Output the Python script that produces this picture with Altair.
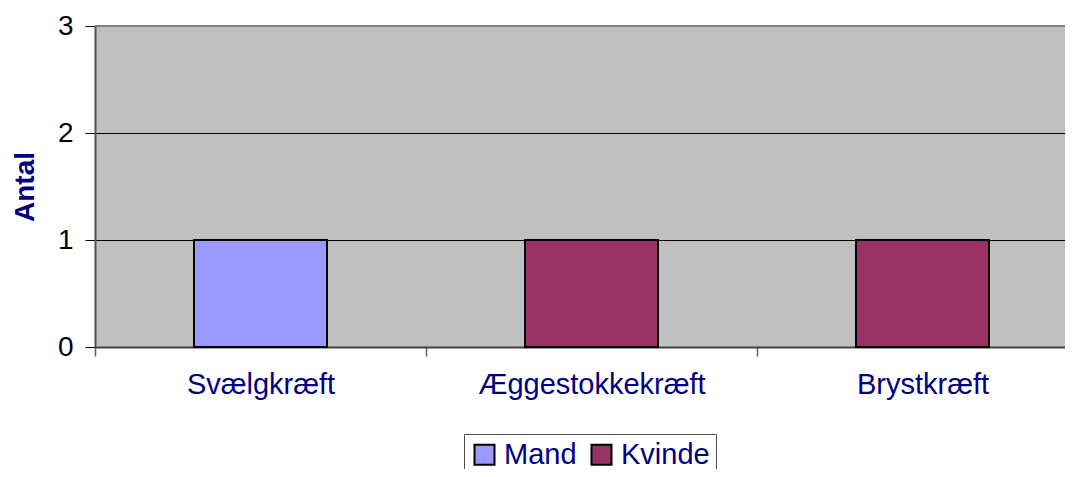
import altair as alt
import pandas as pd

categories = ["Svælgkræft", "Æggestokkekræft", "Brystkræft"]
genders = ["Mand", "Kvinde", "Kvinde"]
counts = [1, 1, 1]
y_max = 3

df = pd.DataFrame({"Sygdom": categories, "Køn": genders, "Antal": counts})

navy = "#000080"
font = "Liberation Sans"

bars = alt.Chart(df).mark_bar(size=133, stroke="black", strokeWidth=2).encode(
    x=alt.X("Sygdom:N", sort=categories, title=None,
            scale=alt.Scale(range=[0, 993], paddingInner=0, paddingOuter=0),
            axis=alt.Axis(labelAngle=0, labelColor=navy, labelFont=font,
                          labelFontSize=29, labelPadding=14, labelLimit=0,
                          tickBand="extent",
                          tickColor="#606060", tickSize=9, domainColor="#404040",
                          domainWidth=2, tickWidth=1.5)),
    y=alt.Y("Antal:Q", title="Antal", scale=alt.Scale(domain=[0, y_max]),
            axis=alt.Axis(values=[0, 1, 2, 3], format="d", labelColor="black",
                          labelFont=font, labelFontSize=28, labelPadding=12,
                          tickColor="black", tickSize=10, grid=True, gridColor="black",
                          gridWidth=1, domainColor="#505050", domainWidth=2,
                          titleFont=font, titleFontSize=28,
                          titleFontWeight="bold", titleColor=navy, titlePadding=18)),
    color=alt.Color("Køn:N", scale=alt.Scale(domain=["Mand", "Kvinde"],
                                             range=["#9999FF", "#993366"]),
                    legend=alt.Legend(orient="none", legendX=369, legendY=408,
                                      direction="horizontal", title=None,
                                      symbolType="square", symbolSize=400,
                                      symbolStrokeColor="black", symbolStrokeWidth=2,
                                      labelFont=font, labelFontSize=29,
                                      labelColor=navy, strokeColor="#505050",
                                      padding=6, columnPadding=10, labelOffset=5,
                                      fillColor="white")),
)

top_border = alt.Chart(df).mark_rule(color="#808080", strokeWidth=2).encode(
    y=alt.datum(y_max)
)

chart = alt.layer(bars, top_border).properties(
    width=970, height=321,
    autosize=alt.AutoSizeParams(type="none"),
    padding={"left": 87, "top": 18, "right": 0, "bottom": 122},
).configure_view(fill="#C0C0C0", strokeOpacity=0)

chart.save("out.html", embed_options={"renderer": "svg", "actions": False})
